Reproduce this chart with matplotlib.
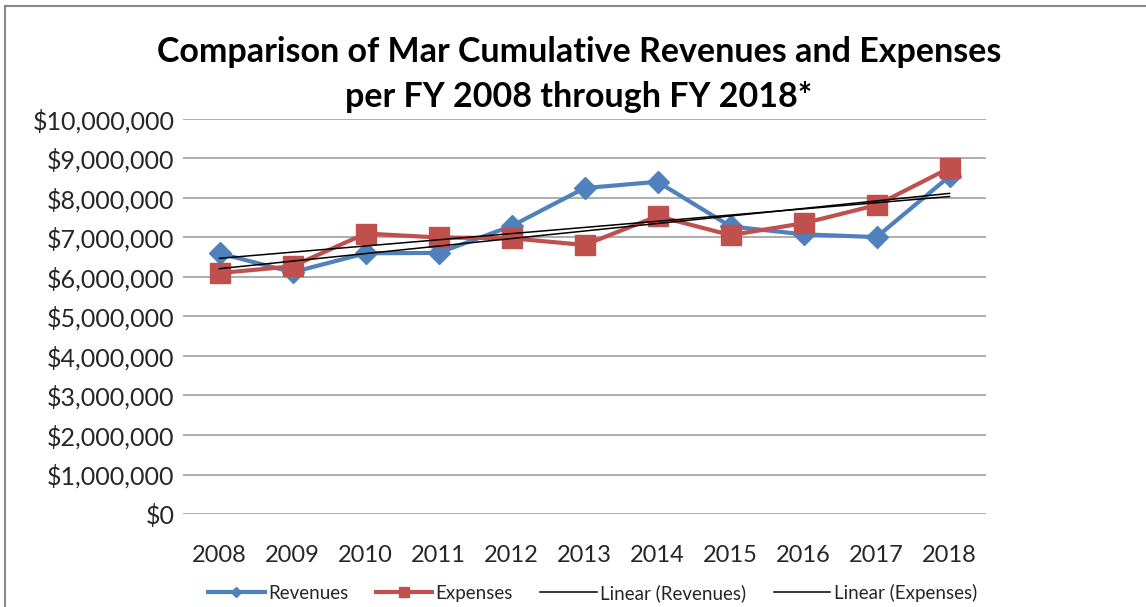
import matplotlib.pyplot as plt
import numpy as np
from matplotlib.ticker import FuncFormatter

years = ['2008', '2009', '2010', '2011', '2012', '2013', '2014', '2015', '2016', '2017', '2018']
revenues = [6.60e6, 6.12e6, 6.60e6, 6.61e6, 7.29e6, 8.25e6, 8.41e6, 7.28e6, 7.08e6, 7.01e6, 8.55e6]
expenses = [6.10e6, 6.27e6, 7.10e6, 7.00e6, 6.98e6, 6.81e6, 7.54e6, 7.06e6, 7.36e6, 7.82e6, 8.76e6]

plt.rcParams['font.family'] = ['Lato', 'DejaVu Sans']

fig = plt.figure(figsize=(11.46, 6.07), dpi=100)
ax = fig.add_axes([0.1597, 0.1532, 0.7007, 0.6508])

x = np.arange(len(years))
blue = '#4F81BD'
red = '#C0504D'

# trend lines from a least squares fit
rev_fit = np.polyval(np.polyfit(x, revenues, 1), x)
exp_fit = np.polyval(np.polyfit(x, expenses, 1), x)

ax.plot(x, revenues, color=blue, lw=3, marker='D', ms=11, label='Revenues', zorder=3)
ax.plot(x, expenses, color=red, lw=3, marker='s', ms=14, label='Expenses', zorder=4)
ax.plot(x, rev_fit, color='black', lw=1.1, label='Linear (Revenues)', zorder=5)
ax.plot(x, exp_fit, color='black', lw=1.1, label='Linear (Expenses)', zorder=5)

ax.set_xlim(-0.5, len(years) - 0.5)
ax.set_ylim(0, 10e6)
ax.set_yticks(np.arange(0, 10.5e6, 1e6))
ax.yaxis.set_major_formatter(FuncFormatter(lambda v, p: f'${v:,.0f}'))
ax.set_xticks(x)
ax.set_xticklabels(years)
ax.tick_params(axis='both', length=0, labelcolor='#262626')
ax.tick_params(axis='x', pad=22, labelsize=17)
ax.tick_params(axis='y', pad=6, labelsize=18)
ax.grid(axis='y', color='#A0A0A0', lw=1.2)
ax.set_axisbelow(True)
for s in ax.spines.values():
    s.set_visible(False)

fig.text(0.505, 0.877, 'Comparison of Mar Cumulative Revenues and Expenses\nper FY 2008 through FY 2018*',
         ha='center', va='center', fontsize=24.5, fontweight='bold', linespacing=1.52)

ax.legend(loc='center', bbox_to_anchor=(0.51, -0.2), ncol=4, frameon=False, fontsize=13.5,
          markerscale=0.5, handlelength=3.0, columnspacing=1.45, handletextpad=0.2,
          labelcolor='#262626')

# outer chart frame
fig.add_artist(plt.Line2D([0.004, 0.004], [0, 0.99], color='#888888', lw=1.5, transform=fig.transFigure))
fig.add_artist(plt.Line2D([0.004, 1], [0.99, 0.99], color='#888888', lw=1.5, transform=fig.transFigure))

fig.savefig('out.png', dpi=100)
